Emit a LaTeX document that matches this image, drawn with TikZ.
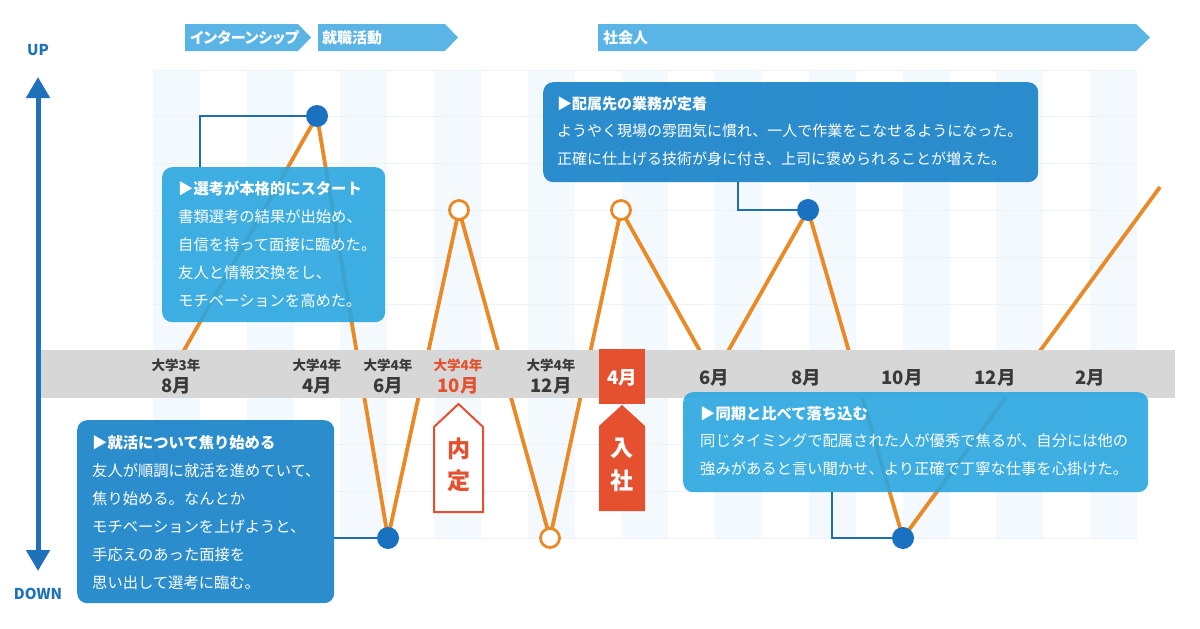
\documentclass[tikz,border=0pt]{standalone}
\usepackage{fontspec}
\newfontfamily\jp{Noto Sans CJK JP}
\newfontfamily\jpp{Noto Sans CJK JP}[RawFeature=+palt]
\usetikzlibrary{arrows.meta,calc}
\definecolor{gridpale}{HTML}{F3F9FD}
\definecolor{gridline}{HTML}{EDF2F6}
\definecolor{bandgray}{HTML}{D7D7D7}
\definecolor{labgray}{HTML}{3A3A3A}
\definecolor{bannerblue}{HTML}{5AB4E5}
\definecolor{darkbox}{HTML}{2187CB}
\definecolor{lightbox}{HTML}{2AA6E0}
\definecolor{connblue}{HTML}{1F6DB5}
\definecolor{dotblue}{HTML}{1A71BF}
\definecolor{lineorange}{HTML}{EA8A26}
\definecolor{tagred}{HTML}{E5512F}
\definecolor{axisblue}{HTML}{1F72BA}
\tikzset{
  banner/.style={fill=bannerblue},
  bannertxt/.style={font=\jpp\bfseries\fontsize{15}{15}\selectfont, text=white, inner sep=0, anchor=west},
  lbls/.style={font=\jp\bfseries\fontsize{13.5}{13.5}\selectfont, text=labgray, inner sep=0},
  lblb/.style={font=\jp\bfseries\fontsize{18.5}{18.5}\selectfont, text=labgray, inner sep=0},
  darkbx/.style={fill=darkbox, fill opacity=0.95, rounded corners=10pt, anchor=north west, inner sep=0},
  lightbx/.style={fill=lightbox, fill opacity=0.9, rounded corners=10pt, anchor=north west, inner sep=0},
  boxtxt/.style={font=\jp\fontsize{15.3}{28}\selectfont, text=white, align=left, anchor=north west, inner sep=0},
  conn/.style={draw=connblue, line width=2.6pt},
  dotfill/.style={circle, fill=dotblue, minimum size=22pt, inner sep=0},
  dotopen/.style={circle, draw=lineorange, line width=2.8pt, fill=white, minimum size=19pt, inner sep=0},
  oline/.style={draw=lineorange, line width=3.8pt, line join=round},
  tagtxt/.style={font=\jp\bfseries\fontsize{23}{23}\selectfont, inner sep=0},
  axislbl/.style={font=\jp\bfseries\fontsize{15}{15}\selectfont, text=axisblue, inner sep=0},
}
\begin{document}
\begin{tikzpicture}[x=1pt,y=-1pt]
\useasboundingbox (0,0) rectangle (1200,629);
\fill[white] (0,0) rectangle (1200,629);
% grid
\foreach \i in {0,2,...,20} \fill[gridpale] ({153+\i*46.86},70) rectangle ++(46.86,468);
\foreach \j in {0,...,10} \draw[gridline, line width=1pt] (153,{70+\j*46.8}) -- (1137,{70+\j*46.8});
% banners
\fill[banner] (185,24) -- (298,24) -- (311,37.5) -- (298,51) -- (185,51) -- cycle;
\fill[banner] (318,24) -- (445,24) -- (458,37.5) -- (445,51) -- (318,51) -- cycle;
\fill[banner] (598,24) -- (1136,24) -- (1150,37.5) -- (1136,51) -- (598,51) -- cycle;
\node[bannertxt] (bn1) at (190,37.5) {インターンシップ};
\node[bannertxt] (bn2) at (322,37.5) {就職活動};
\node[bannertxt] (bn3) at (603,37.5) {社会人};
% axis
\coordinate (axTop) at (38,77);
\coordinate (axBot) at (38,571);
\draw[axisblue, line width=5pt, {Triangle[width=23pt,length=21pt]}-{Triangle[width=23pt,length=21pt]}] (axTop) -- (axBot);
\node[axislbl] (up) at (38,50) {UP};
\node[axislbl] (down) at (38,594) {DOWN};
% orange line points
\coordinate (c0) at (174,368);
\coordinate (c1) at (317,116);
\coordinate (c2) at (388,538);
\coordinate (c3) at (459,210);
\coordinate (c4) at (550,538);
\coordinate (c5) at (621,210);
\coordinate (c6) at (714,376);
\coordinate (c7) at (808,210);
\coordinate (c8) at (903,538);
\coordinate (c9) at (1160,187);
\draw[oline] (c0) -- (c1) -- (c2) -- (c3) -- (c4) -- (c5) -- (c6) -- (c7) -- (c8) -- (c9);
% band
\fill[bandgray] (41,350) rectangle (1175,398);
% labels
\node[lbls] (l1a) at (176,365) {大学3年};
\node[lblb] (l1b) at (176,386) {8月};
\node[lbls] (l2a) at (317,365) {大学4年};
\node[lblb] (l2b) at (317,386) {4月};
\node[lbls] (l3a) at (388,365) {大学4年};
\node[lblb] (l3b) at (388,386) {6月};
\node[lbls, text=tagred] (l4a) at (458,365) {大学4年};
\node[lblb, text=tagred] (l4b) at (458,386) {10月};
\node[lbls] (l5a) at (551,365) {大学4年};
\node[lblb] (l5b) at (551,386) {12月};
\node[fill=tagred, minimum width=46pt, minimum height=55pt, inner sep=0] (apr) at (622,376) {};
\node[lblb, text=white] (aprt) at (622,378) {4月};
\node[lblb] (m6) at (714,378) {6月};
\node[lblb] (m8) at (806,378) {8月};
\node[lblb] (m10) at (902,378) {10月};
\node[lblb] (m12) at (995,378) {12月};
\node[lblb] (m2) at (1090,378) {2月};
% tags
\draw[tagred, line width=2pt, fill=white] (434,427) -- (458.5,404) -- (483,427) -- (483,512) -- (434,512) -- cycle;
\node[tagtxt, text=tagred] (nai) at (458.5,449) {内};
\node[tagtxt, text=tagred] (tei) at (458.5,481) {定};
\fill[tagred] (599,426) -- (622,405) -- (645,426) -- (645,511) -- (599,511) -- cycle;
\node[tagtxt, text=white] (nyu) at (622,448) {入};
\node[tagtxt, text=white] (sha) at (622,481) {社};
% boxes
\node[lightbx, minimum width=223pt, minimum height=155pt] (bA) at (162,167) {};
\node[boxtxt] (tA) at (178,174.4) {\strut{\bfseries ▶選考が本格的にスタート}\\書類選考の結果が出始め、\\自信を持って面接に臨めた。\\友人と情報交換をし、\\モチベーションを高めた。};
\node[darkbx, minimum width=257pt, minimum height=183pt] (bB) at (77,420) {};
\node[boxtxt] (tB) at (92,428.4) {\strut{\bfseries ▶就活について焦り始める}\\友人が順調に就活を進めていて、\\焦り始める。なんとか\\モチベーションを上げようと、\\手応えのあった面接を\\思い出して選考に臨む。};
\node[darkbx, minimum width=495pt, minimum height=100pt] (bC) at (543,82) {};
\node[boxtxt, font=\jp\fontsize{15}{27.5}\selectfont] (tC) at (557,89.7) {\strut{\bfseries ▶配属先の業務が定着}\\ようやく現場の雰囲気に慣れ、一人で作業をこなせるようになった。\\正確に仕上げる技術が身に付き、上司に褒められることが増えた。};
\node[lightbx, minimum width=465pt, minimum height=100pt] (bD) at (683,392) {};
\node[boxtxt, font=\jp\fontsize{15.3}{27.5}\selectfont] (tD) at (700,399.7) {\strut{\bfseries ▶同期と比べて落ち込む}\\同じタイミングで配属された人が優秀で焦るが、自分には他の\\強みがあると言い聞かせ、より正確で丁寧な仕事を心掛けた。};
% dots
\node[dotfill] (d1) at (c1) {};
\node[dotfill] (d2) at (c2) {};
\node[dotopen] (d3) at (c3) {};
\node[dotopen] (d4) at (c4) {};
\node[dotopen] (d5) at (c5) {};
\node[dotfill] (d7) at (c7) {};
\node[dotfill] (d8) at (c8) {};
% connectors
\draw[conn] (d1.west) -| ($(bA.north west)+(38,0)$);
\draw[conn] (d2.west) -- (bB.east |- d2.west);
\draw[conn] (d7.west) -| ($(bC.south west)+(195,0)$);
\draw[conn] (d8.west) -| ($(bD.south west)+(149,0)$);
\end{tikzpicture}
\end{document}
